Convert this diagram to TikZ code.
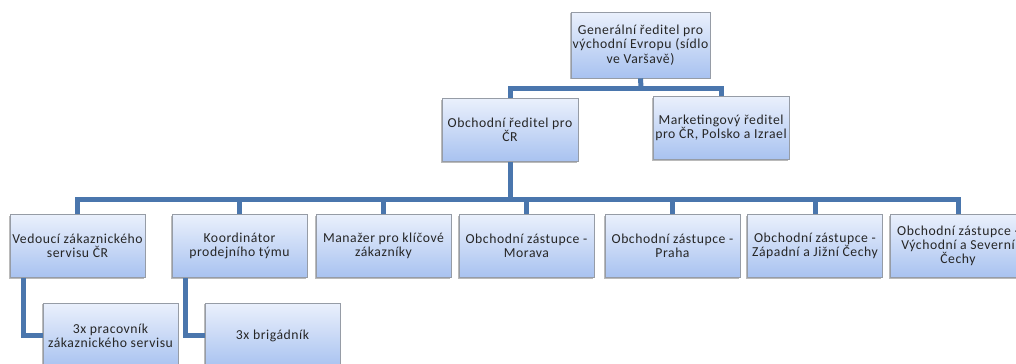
\documentclass[tikz,border=0pt]{standalone}
\usepackage{fontspec}
\setmainfont{Carlito}[LetterSpace=4]
\usepackage{tikz}
\usetikzlibrary{shadows}

\definecolor{linkblue}{RGB}{74,118,173}
\definecolor{boxtop}{RGB}{234,240,252}
\definecolor{boxbot}{RGB}{168,194,240}
\definecolor{boxline}{RGB}{150,156,166}

\tikzset{
  orgbox/.style={rectangle,draw=boxline,top color=boxtop,bottom color=boxbot,
    align=center,inner sep=1pt,text=black!85,font=\fontsize{7.8}{8.1}\selectfont,
    drop shadow={shadow xshift=-0.6pt,shadow yshift=-0.8pt,opacity=0.45,fill=black!60}},
  link/.style={draw=linkblue,line width=0.1cm,line join=miter}
}

\begin{document}
\begin{tikzpicture}[x=0.02cm,y=-0.02cm,every node/.style={orgbox,minimum width=2.7cm,minimum height=1.26cm}]
\useasboundingbox (0,0) rectangle (1016,363);
\fill[white] (0,0) rectangle (1016,363);
\clip (0,0) rectangle (1016,363);

% levels
\coordinate (k1) at (641,88);
\coordinate (k2) at (510,199);
\coordinate (s1) at (23,333);
\coordinate (s2) at (185,333);

\node[minimum height=1.32cm] (g) at (640.5,45) {Generální ředitel pro\\východní Evropu (sídlo\\ve Varšavě)};
\node[minimum width=2.72cm] (c) at (510,130) {Obchodní ředitel pro\\ČR};
\node[minimum width=2.72cm] (m) at (721,128) {Marketingový ředitel\\pro ČR, Polsko a Izrael};

\node (b1) at (77.5,246) {Vedoucí zákaznického\\servisu ČR};
\node (b2) at (239.5,246) {Koordinátor\\prodejního týmu};
\node (b3) at (383.5,246) {Manažer pro klíčové\\zákazníky};
\node (b4) at (526.5,246) {Obchodní zástupce -\\Morava};
\node (b5) at (672.5,246) {Obchodní zástupce -\\Praha};
\node (b6) at (815,246) {Obchodní zástupce -\\Západní a Jižní Čechy};
\node (b7) at (958,246) {Obchodní zástupce -\\Východní a Severní\\Čechy};

\node[minimum height=1.3cm] (p1) at (110.5,335.5) {3x pracovník\\zákaznického servisu};
\node[minimum height=1.3cm] (p2) at (272.5,335.5) {3x brigádník};

\draw[link] (g.south) -- (k1);
\draw[link] (k1) -| (c.north);
\draw[link] (k1) -| (m.north);
\draw[link] (c.south) -- (k2);

\foreach \to in {b1,b2,b3,b4,b5,b6,b7}
\draw[link] (k2) -| (\to.north);

\draw[link] (s1 |- b1.south) |- (p1.west);
\draw[link] (s2 |- b2.south) |- (p2.west);
\end{tikzpicture}
\end{document}
